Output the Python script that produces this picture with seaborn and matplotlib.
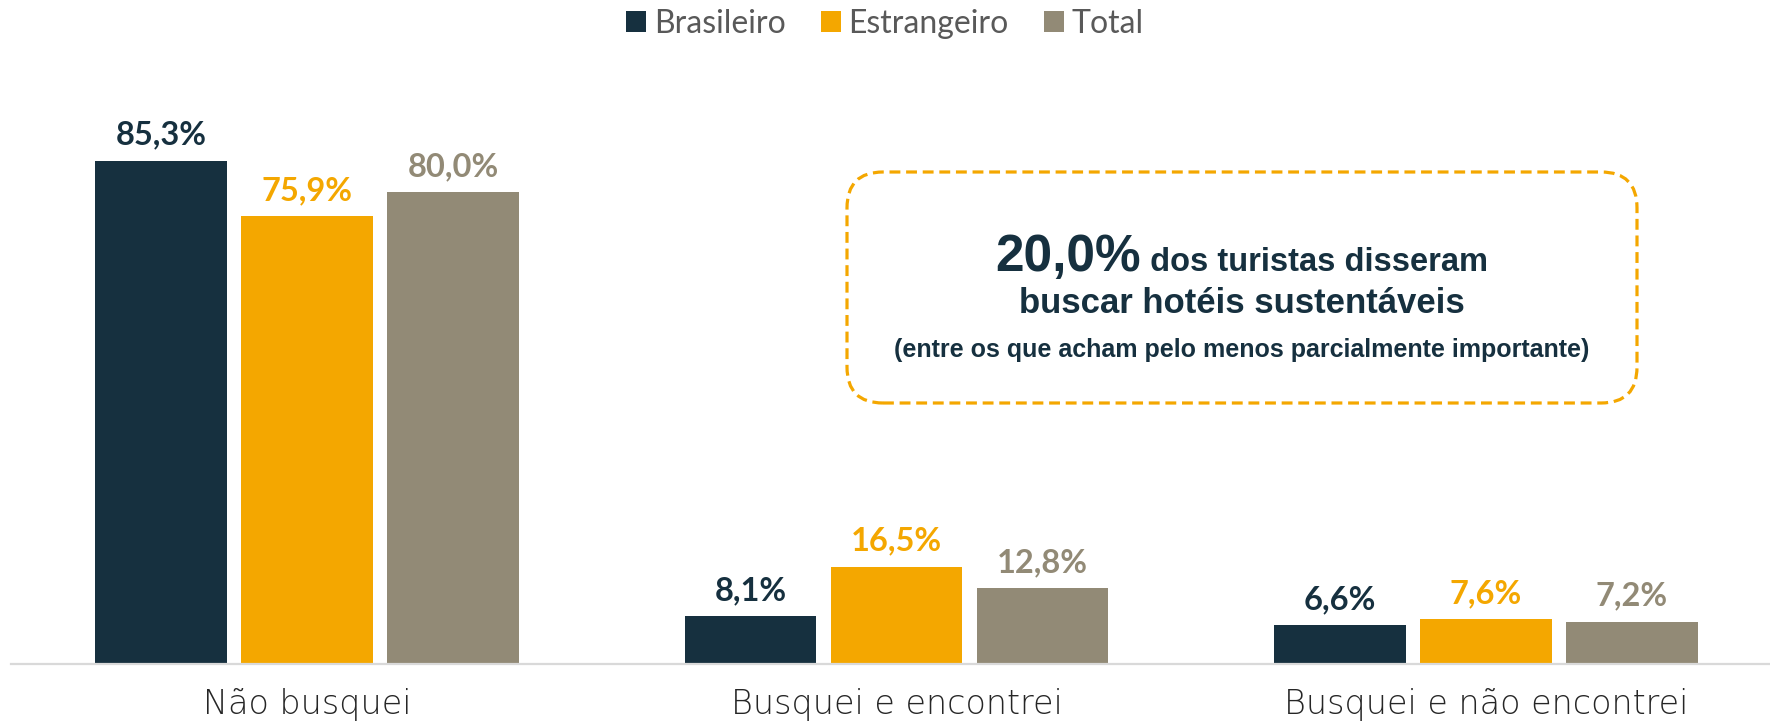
import pandas as pd
import numpy as np
import seaborn as sns
import matplotlib.pyplot as plt
from matplotlib.patches import FancyBboxPatch

# dados
categorias = ['Não busquei', 'Busquei e encontrei', 'Busquei e não encontrei']
series = ['Brasileiro', 'Estrangeiro', 'Total']
brasileiro = [85.3, 8.1, 6.6]
estrangeiro = [75.9, 16.5, 7.6]
total = [80.0, 12.8, 7.2]
cores = ['#16303F', '#F4A700', '#928A76']

df = pd.DataFrame({
    'categoria': categorias * 3,
    'grupo': [s for s in series for _ in categorias],
    'valor': brasileiro + estrangeiro + total,
})

W, H = 1770, 725
fig = plt.figure(figsize=(W / 100, H / 100), dpi=100)
ax = fig.add_axes([11 / W, 61 / H, 1 - 11 / W, (664 - 80) / H])

sns.barplot(data=df, x='categoria', y='valor', hue='grupo', order=categorias,
            hue_order=series, palette=cores, width=0.743, gap=0.1,
            saturation=1, ax=ax, legend=True)

# rótulos das barras (vírgula decimal)
for cont, s, cor in zip(ax.containers, series, cores):
    vals = df[df['grupo'] == s]['valor'].tolist()
    ax.bar_label(cont, labels=[f'{v:.1f}%'.replace('.', ',') for v in vals],
                 padding=8, color=cor, fontsize=23.5, fontweight='bold',
                 family='Lato')

ax.set_xlim(-0.502, 2.482)
ax.set_ylim(0, 99)
ax.set_xlabel('')
ax.set_ylabel('')
ax.set_yticks([])
for sp in ['top', 'right', 'left']:
    ax.spines[sp].set_visible(False)
ax.spines['bottom'].set_color('#D9D9D9')
ax.spines['bottom'].set_linewidth(1.6)
ax.tick_params(axis='x', length=0, pad=17, labelsize=24, labelcolor='#262626')
for t in ax.get_xticklabels():
    t.set_family('DejaVu Sans')
    t.set_fontweight('light')

# legenda no topo
handles, labels = ax.get_legend_handles_labels()
ax.get_legend().remove()
fig.legend(handles, labels, loc='center', bbox_to_anchor=(0.5, 1 - 24 / H),
           ncol=3, frameon=False, labelcolor='#595959',
           handlelength=0.62, handleheight=0.62, handletextpad=0.25,
           columnspacing=1.1, prop={'family': 'Lato', 'size': 23})

# caixa de destaque tracejada
box = FancyBboxPatch((847, H - 403), 1637 - 847, 403 - 172,
                     boxstyle='round,pad=0,rounding_size=36',
                     transform=None, fill=False, edgecolor='#F4A700',
                     linewidth=2.3, linestyle=(0, (3.4, 1.8)))
fig.add_artist(box)

cx = (847 + 1637) / 2
cor_txt = '#16303F'
fonte = 'Liberation Sans'
t1 = fig.text(0, 1 - 271 / H, '20,0%', fontsize=37, fontweight='bold',
              color=cor_txt, family=fonte, va='baseline', ha='left')
t2 = fig.text(0, 1 - 271 / H, ' dos turistas disseram', fontsize=23.5,
              fontweight='bold', color=cor_txt, family=fonte, va='baseline',
              ha='left')
fig.canvas.draw()
r = fig.canvas.get_renderer()
w1 = t1.get_window_extent(r).width
w2 = t2.get_window_extent(r).width
x0 = cx - (w1 + w2) / 2
t1.set_x(x0 / W)
t2.set_x((x0 + w1) / W)

fig.text(cx / W, 1 - 313 / H, 'buscar hotéis sustentáveis', fontsize=25,
         fontweight='bold', color=cor_txt, family=fonte, va='baseline',
         ha='center')
fig.text(cx / W, 1 - 357 / H,
         '(entre os que acham pelo menos parcialmente importante)',
         fontsize=18, fontweight='bold', color=cor_txt, family=fonte,
         va='baseline', ha='center')

fig.savefig('out.png', dpi=100)
